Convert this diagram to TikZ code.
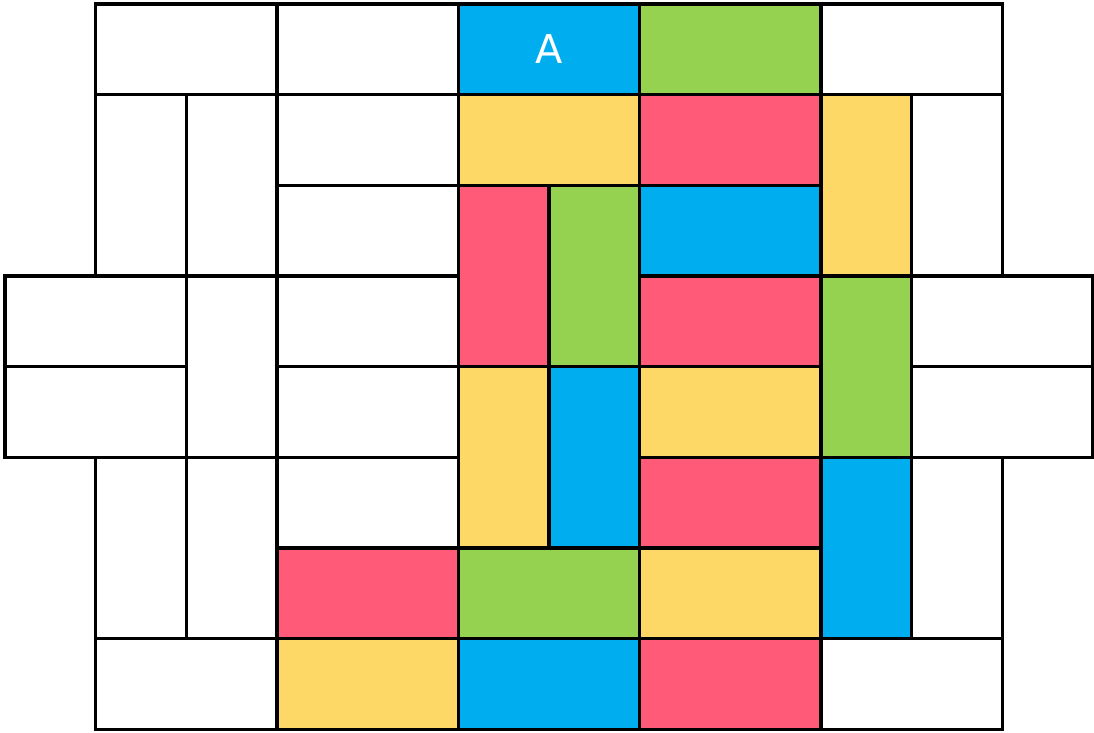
\documentclass[tikz,border=0pt]{standalone}
\usepackage{fontspec}
\setmainfont{DejaVu Sans}
\definecolor{cblue}{RGB}{0,174,239}
\definecolor{cgreen}{RGB}{148,210,80}
\definecolor{cyellow}{RGB}{254,216,102}
\definecolor{cred}{RGB}{255,90,120}
\begin{document}
\begin{tikzpicture}[y=-1cm,
  tile/.style={draw=black, line width=1.1pt, line join=miter},
  W/.style={tile, fill=white},
  B/.style={tile, fill=cblue},
  G/.style={tile, fill=cgreen},
  Y/.style={tile, fill=cyellow},
  R/.style={tile, fill=cred},
  lbl/.style={text=white, font=\fontsize{12.5}{14}\selectfont, inner sep=0pt}]
\useasboundingbox (-0.055,-0.044) rectangle (12.011,8.033);
% row 0
\draw[W] (1,0) rectangle (3,1);
\draw[W] (3,0) rectangle (5,1);
\draw[B] (5,0) rectangle (7,1);
\draw[G] (7,0) rectangle (9,1);
\draw[W] (9,0) rectangle (11,1);
% left
\draw[W] (1,1) rectangle (2,3);
\draw[W] (2,1) rectangle (3,3);
\draw[W] (0,3) rectangle (2,4);
\draw[W] (0,4) rectangle (2,5);
\draw[W] (2,3) rectangle (3,5);
\draw[W] (1,5) rectangle (2,7);
\draw[W] (2,5) rectangle (3,7);
\draw[W] (1,7) rectangle (3,8);
% column 3-5
\draw[W] (3,1) rectangle (5,2);
\draw[W] (3,2) rectangle (5,3);
\draw[W] (3,3) rectangle (5,4);
\draw[W] (3,4) rectangle (5,5);
\draw[W] (3,5) rectangle (5,6);
\draw[R] (3,6) rectangle (5,7);
\draw[Y] (3,7) rectangle (5,8);
% middle
\draw[Y] (5,1) rectangle (7,2);
\draw[R] (7,1) rectangle (9,2);
\draw[R] (5,2) rectangle (6,4);
\draw[G] (6,2) rectangle (7,4);
\draw[B] (7,2) rectangle (9,3);
\draw[R] (7,3) rectangle (9,4);
\draw[Y] (5,4) rectangle (6,6);
\draw[B] (6,4) rectangle (7,6);
\draw[Y] (7,4) rectangle (9,5);
\draw[R] (7,5) rectangle (9,6);
\draw[G] (5,6) rectangle (7,7);
\draw[Y] (7,6) rectangle (9,7);
\draw[B] (5,7) rectangle (7,8);
\draw[R] (7,7) rectangle (9,8);
% right
\draw[Y] (9,1) rectangle (10,3);
\draw[W] (10,1) rectangle (11,3);
\draw[G] (9,3) rectangle (10,5);
\draw[W] (10,3) rectangle (12,4);
\draw[W] (10,4) rectangle (12,5);
\draw[B] (9,5) rectangle (10,7);
\draw[W] (10,5) rectangle (11,7);
\draw[W] (9,7) rectangle (11,8);
\node[lbl] (a) at (6,0.5) {A};
\end{tikzpicture}
\end{document}
